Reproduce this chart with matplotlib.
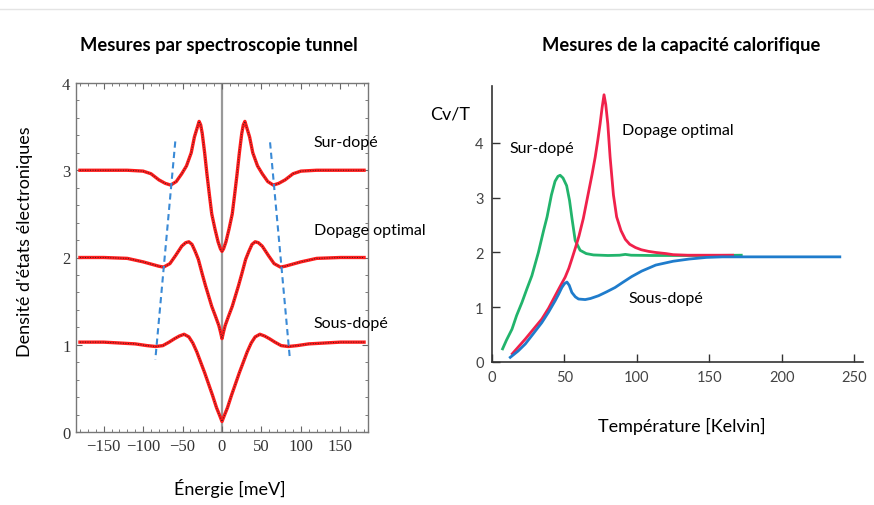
import numpy as np
import matplotlib
matplotlib.use("Agg")
import matplotlib.pyplot as plt
from matplotlib.ticker import MultipleLocator
from matplotlib.lines import Line2D

# ---------------- DATA ----------------
# tunnel spectroscopy (energy in meV, density of states)
e_top = [-180, -150, -120, -100, -90, -80, -72, -65, -58, -51, -45, -39, -35, -31, -29, -27, -25, -22, -19, -16, -13, -9, -5, -2, 0,
         2, 5, 9, 13, 16, 19, 22, 25, 27, 29, 31, 35, 39, 45, 51, 58, 65, 72, 80, 90, 100, 120, 150, 180]
d_top = [3.00, 3.00, 3.00, 2.99, 2.96, 2.89, 2.85, 2.83, 2.87, 2.96, 3.05, 3.20, 3.38, 3.50, 3.56, 3.52, 3.42, 3.20, 2.95, 2.72, 2.50, 2.33, 2.18, 2.10, 2.07,
         2.10, 2.18, 2.33, 2.50, 2.72, 2.95, 3.20, 3.42, 3.52, 3.56, 3.50, 3.38, 3.20, 3.05, 2.96, 2.87, 2.83, 2.85, 2.89, 2.96, 2.99, 3.00, 3.00, 3.00]

e_mid = [-180, -150, -120, -100, -88, -80, -74, -66, -59, -51, -46, -42, -38, -34, -30, -25, -21, -17, -13, -8, -4, -2, 0,
         2, 4, 8, 13, 17, 21, 25, 30, 34, 38, 42, 46, 51, 59, 66, 74, 80, 88, 100, 120, 150, 180]
d_mid = [2.00, 2.00, 1.99, 1.95, 1.92, 1.90, 1.89, 1.93, 2.02, 2.13, 2.17, 2.18, 2.15, 2.07, 1.98, 1.81, 1.68, 1.56, 1.44, 1.32, 1.22, 1.15, 1.07,
         1.15, 1.22, 1.32, 1.44, 1.56, 1.68, 1.81, 1.98, 2.07, 2.15, 2.18, 2.17, 2.13, 2.02, 1.93, 1.89, 1.90, 1.92, 1.95, 1.99, 2.00, 2.00]

e_bot = [-180, -150, -130, -110, -95, -84, -75, -67, -60, -54, -48, -42, -37, -32, -27, -22, -17, -12, -7, -3, 0,
         3, 7, 12, 17, 22, 27, 32, 37, 42, 48, 54, 60, 67, 75, 84, 95, 110, 130, 150, 180]
d_bot = [1.03, 1.03, 1.02, 1.01, 0.99, 0.98, 0.99, 1.03, 1.07, 1.10, 1.12, 1.09, 1.02, 0.92, 0.80, 0.68, 0.55, 0.42, 0.28, 0.19, 0.12,
         0.19, 0.28, 0.42, 0.55, 0.68, 0.80, 0.92, 1.02, 1.09, 1.12, 1.10, 1.07, 1.03, 0.99, 0.98, 0.99, 1.01, 1.02, 1.03, 1.03]

# gap edge guides (blue dashed)
guide_left_e = [-59.2, -84.5]
guide_left_d = [3.33, 0.83]
guide_right_e = [60.9, 86.1]
guide_right_d = [3.32, 0.83]

spectro_labels = ["Sur-dopé", "Dopage optimal", "Sous-dopé"]

# specific heat (temperature in K, Cv/T)
t_sur = [7.3, 10, 13.8, 17, 20.7, 24, 27.5, 32, 35.6, 38, 41, 43.5, 45.5, 47, 49, 51.5, 53.5, 55.2, 57.4, 60.8, 65, 70, 80, 88, 92, 96, 110, 130, 150, 172]
c_sur = [0.24, 0.40, 0.60, 0.85, 1.09, 1.33, 1.575, 2.00, 2.40, 2.65, 3.05, 3.30, 3.39, 3.41, 3.36, 3.22, 2.95, 2.62, 2.22, 2.04, 1.98, 1.955, 1.945, 1.95, 1.965, 1.95, 1.945, 1.945, 1.945, 1.95]

t_opt = [14, 18, 23, 28, 34.4, 39, 43.6, 47, 50.5, 53, 55.1, 57.5, 60, 63, 66.6, 69, 71.2, 73, 74.6, 76, 77.3, 78.5, 79.9, 81.5, 83.8, 86, 89, 92, 95, 99,
         103, 108, 113, 120, 125, 135, 150, 166]
c_opt = [0.15, 0.27, 0.42, 0.58, 0.785, 0.98, 1.21, 1.38, 1.55, 1.71, 1.88, 2.08, 2.30, 2.62, 3.10, 3.42, 3.74, 4.05, 4.35, 4.65, 4.88, 4.70, 4.35, 3.74,
         3.05, 2.65, 2.40, 2.24, 2.15, 2.09, 2.05, 2.02, 2.00, 1.98, 1.96, 1.95, 1.95, 1.95]

t_sous = [12.6, 18, 23, 28, 34.4, 39, 43.6, 46, 48.2, 50, 51.7, 53.3, 55.1, 57.5, 59.7, 64.3, 68, 73.5, 79, 84.9, 90, 96.4, 103.3, 113, 125, 136, 148,
          159, 180, 210, 240]
c_sous = [0.085, 0.20, 0.33, 0.50, 0.72, 0.91, 1.12, 1.24, 1.36, 1.43, 1.46, 1.40, 1.27, 1.19, 1.15, 1.14, 1.16, 1.21, 1.28, 1.36, 1.45, 1.56, 1.66, 1.77,
          1.84, 1.88, 1.91, 1.92, 1.92, 1.92, 1.92]

# ---------------- FIGURE ----------------
fig = plt.figure(figsize=(8.74, 5.06), dpi=100)
txt = dict(family="Lato", color="black")

# thin grey line at the top of the picture
fig.add_artist(Line2D([0, 1], [1 - 10 / 506, 1 - 10 / 506], color="#e4e4e4", lw=1))

# ----- left : spectroscopy -----
ax1 = fig.add_axes([76 / 874, 73 / 506, 292 / 874, 349 / 506])
ax1.set_xlim(-185, 185)
ax1.set_ylim(0, 4)
ax1.axvline(0, color="#999999", lw=1.6, zorder=1)

for e, d in [(e_top, d_top), (e_mid, d_mid), (e_bot, d_bot)]:
    ax1.plot(e, d, color="#ff1c1c", lw=2.4, zorder=2, solid_joinstyle="round")
    ax1.plot(e, d, color="#222222", lw=0.7, ls=(0, (1.0, 1.6)), alpha=0.85, zorder=3)

ax1.plot(guide_left_e, guide_left_d, color="#3a8ad6", lw=1.5, ls=(0, (3, 2)), zorder=4)
ax1.plot(guide_right_e, guide_right_d, color="#3a8ad6", lw=1.5, ls=(0, (3, 2)), zorder=4)

ax1.xaxis.set_major_locator(MultipleLocator(50))
ax1.xaxis.set_minor_locator(MultipleLocator(10))
ax1.yaxis.set_major_locator(MultipleLocator(1))
ax1.yaxis.set_minor_locator(MultipleLocator(0.2))
ax1.tick_params(which="both", direction="in", top=True, right=True, colors="#666666", labelcolor="#333333")
ax1.tick_params(which="major", length=4, width=0.8)
ax1.tick_params(which="minor", length=2, width=0.6)
ax1.tick_params(axis="x", pad=4)
ax1.tick_params(axis="y", pad=4)
for lab in ax1.get_xticklabels() + ax1.get_yticklabels():
    lab.set_family("Liberation Serif")
    lab.set_fontsize(12)
for sp in ax1.spines.values():
    sp.set_color("#777777")
    sp.set_linewidth(1.0)

for label, (ex, dy) in zip(spectro_labels, [(116.4, 3.32), (116.4, 2.315), (116.4, 1.25)]):
    ax1.text(ex, dy, label, fontsize=11.5, va="center", ha="left", clip_on=False, **txt)

# ----- right : specific heat -----
ax2 = fig.add_axes([492 / 874, 143 / 506, 371 / 874, 276 / 506])
ax2.set_xlim(0, 256)
ax2.set_ylim(0, 5.04)
ax2.plot(t_sur, c_sur, color="#22b46c", lw=2.0, solid_joinstyle="round")
ax2.plot(t_opt, c_opt, color="#f0214b", lw=2.0, solid_joinstyle="round")
ax2.plot(t_sous, c_sous, color="#1f7ccc", lw=2.0, solid_joinstyle="round")

ax2.spines["top"].set_visible(False)
ax2.spines["right"].set_visible(False)
for sp in ("left", "bottom"):
    ax2.spines[sp].set_color("#333333")
    ax2.spines[sp].set_linewidth(1.2)
ax2.set_xticks([0, 50, 100, 150, 200, 250])
ax2.set_yticks([0, 1, 2, 3, 4])
ax2.tick_params(direction="in", length=6, width=1, colors="#333333", labelcolor="#444444", pad=6)
for lab in ax2.get_xticklabels() + ax2.get_yticklabels():
    lab.set_family("Lato")
    lab.set_fontsize(10.5)

ax2.text(12.4, 3.90, "Sur-dopé", fontsize=11.5, va="center", ha="left", **txt)
ax2.text(89.5, 4.23, "Dopage optimal", fontsize=11.5, va="center", ha="left", **txt)
ax2.text(94.4, 1.17, "Sous-dopé", fontsize=11.5, va="center", ha="left", **txt)

# ----- titles and axis labels -----
fig.text(219 / 874, 1 - 46 / 506, "Mesures par spectroscopie tunnel", fontsize=13.2, fontweight="bold",
         ha="center", va="center", **txt)
fig.text(681 / 874, 1 - 46 / 506, "Mesures de la capacité calorifique", fontsize=13.2, fontweight="bold",
         ha="center", va="center", **txt)
fig.text(25 / 874, 1 - 242 / 506, "Densité d'états électroniques", fontsize=13, rotation=90,
         ha="center", va="center", **txt)
fig.text(230 / 874, 1 - 489 / 506, "Énergie [meV]", fontsize=13, ha="center", va="center", **txt)
fig.text(450 / 874, 1 - 115 / 506, "Cv/T", fontsize=13, ha="center", va="center", **txt)
fig.text(682 / 874, 1 - 426 / 506, "Température [Kelvin]", fontsize=13, ha="center", va="center", **txt)

fig.savefig("out.png", dpi=100)
